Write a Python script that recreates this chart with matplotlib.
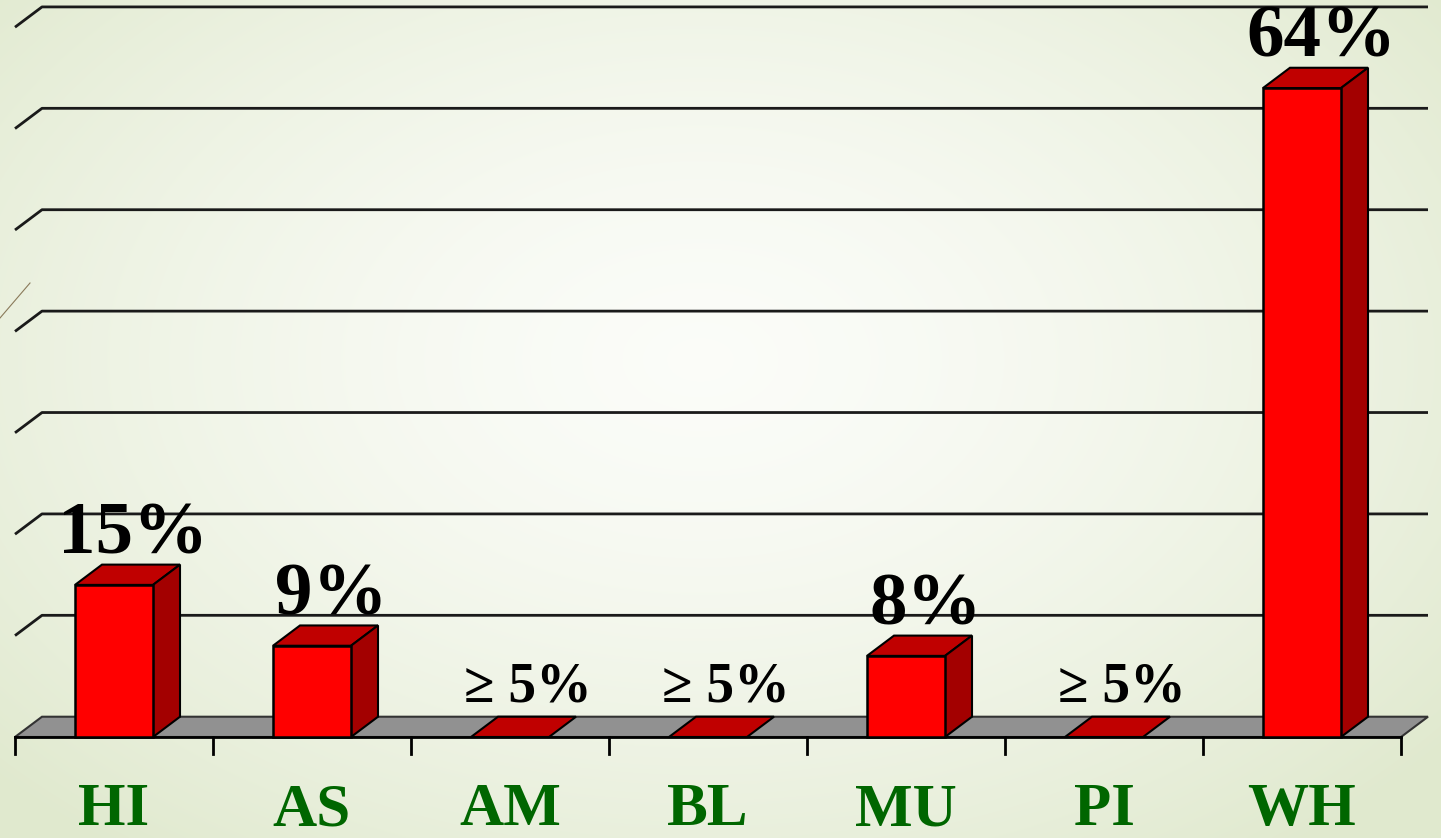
import numpy as np
import matplotlib.pyplot as plt
from matplotlib.patches import Polygon

categories = ['HI', 'AS', 'AM', 'BL', 'MU', 'PI', 'WH']
values = [15, 9, 0, 0, 8, 0, 64]
value_labels = ['15%', '9%', '\u2265 5%', '\u2265 5%', '8%', '\u2265 5%', '64%']
grid_levels = [10, 20, 30, 40, 50, 60, 70]

# fake 3d depth offsets (data units)
DX = 27 / 198
DY = 2.0
HALF = 0.197
PX_PER_PCT = 10.14

plt.rcParams['font.family'] = ['Liberation Serif', 'DejaVu Serif']

fig = plt.figure(figsize=(14.41, 8.38), dpi=100)

# background: soft radial gradient, white centre to pale green edges
bg = fig.add_axes([0, 0, 1, 1])
yy, xx = np.mgrid[0:838, 0:1441]
r = np.sqrt(((xx - 700) / 950) ** 2 + ((yy - 360) / 620) ** 2)
t = np.clip(r, 0, 1) ** 1.5
centre = np.array([0.985, 0.99, 0.975])
edge = np.array([0.88, 0.915, 0.81])
img = centre[None, None, :] * (1 - t[..., None]) + edge[None, None, :] * t[..., None]
bg.imshow(img, aspect='auto', extent=[0, 1, 0, 1])
bg.axis('off')

ax = fig.add_axes([0, 0, 1, 1], zorder=1)
ax.set_facecolor('none')
ax.set_xlim(-114 / 198, (1441 - 114) / 198)
ax.set_ylim((737 - 838) / PX_PER_PCT, 737 / PX_PER_PCT)
ax.axis('off')

x0, x1 = -0.5, len(categories) - 0.5

# back wall gridlines with the little left-hand diagonal
for g in grid_levels:
    ax.plot([x0, x0 + DX, x1 + DX], [g, g + DY, g + DY], color='#1a1a1a', lw=2, zorder=2,
            solid_capstyle='butt')

# floor
floor = Polygon([(x0, 0), (x1, 0), (x1 + DX, DY), (x0 + DX, DY)], closed=True,
                facecolor='#919191', edgecolor='#333333', lw=1.5, zorder=3)
ax.add_patch(floor)
ax.plot([x0, x1], [0, 0], color='black', lw=2, zorder=3)

# tick marks on the category boundaries
for b in np.arange(x0, x1 + 0.01, 1.0):
    ax.plot([b, b], [0, -1.7], color='black', lw=2, zorder=3)

for i, (v, lab) in enumerate(zip(values, value_labels)):
    l, rgt = i - HALF, i + HALF
    top = Polygon([(l, v), (rgt, v), (rgt + DX, v + DY), (l + DX, v + DY)], closed=True,
                  facecolor='#c00000', edgecolor='black', lw=1.5, zorder=5)
    ax.add_patch(top)
    if v > 0:
        side = Polygon([(rgt, 0), (rgt + DX, DY), (rgt + DX, v + DY), (rgt, v)], closed=True,
                       facecolor='#a30000', edgecolor='black', lw=1.5, zorder=5)
        front = Polygon([(l, 0), (rgt, 0), (rgt, v), (l, v)], closed=True,
                        facecolor='#ff0000', edgecolor='black', lw=1.8, zorder=6)
        ax.add_patch(side)
        ax.add_patch(front)
        ax.text(i + DX / 2 + 0.03, v + DY + 1.1, lab, ha='center', va='baseline',
                fontsize=54, fontweight='bold', color='black', zorder=7)
    else:
        ax.text(i + DX / 2 + 0.02, v + DY + 1.5, lab, ha='center', va='baseline',
                fontsize=40, fontweight='bold', color='black', zorder=7)
    ax.text(i, (737 - 825) / PX_PER_PCT, categories[i], ha='center', va='baseline',
            fontsize=44, fontweight='bold', color='#006600', zorder=7)

# stray thin slide line at the top-left
fig.add_artist(plt.Line2D([0 / 1441, 30 / 1441], [1 - 318 / 838, 1 - 283 / 838],
                          color='#8a7a5a', lw=0.8))

fig.savefig('out.png', dpi=100)
